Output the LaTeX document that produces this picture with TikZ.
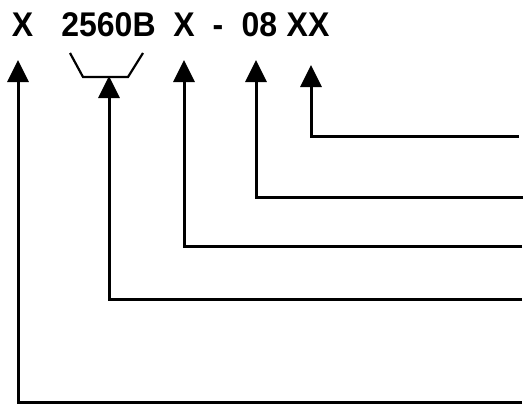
\documentclass[tikz,border=0pt]{standalone}
\usepackage{fontspec}
\setmainfont{Liberation Sans}
\usetikzlibrary{arrows.meta}
\tikzset{
  code/.style={anchor=base,inner sep=0pt,yscale=1.07,
    font=\fontsize{32}{32}\selectfont\bfseries},
  lead/.style={line width=3pt,-{Triangle[width=21pt,length=22pt]}}
}
\begin{document}
\begin{tikzpicture}[x=1pt,y=-1pt]
  \useasboundingbox (0,0) rectangle (524,404);
  % code parts
  \node[code] (pre) at (22.5,37) {X};
  \node[code] (num) at (108.5,37) {2560B};
  \node[code] (opt) at (184,37) {X};
  \node[code] (dash) at (218,37) {-};
  \node[code] (len) at (259.5,37) {08};
  \node[code] (suf) at (308,37) {XX};
  % bracket under the number
  \draw[line width=2.2pt] (70,53) -- (83,77) -- (128,77) -- (143,53);
  % arrow tips
  \coordinate (t1) at (18,60);
  \coordinate (t2) at (109,76);
  \coordinate (t3) at (184,60);
  \coordinate (t4) at (256,60);
  \coordinate (t5) at (311,65);
  % line ends on the right
  \coordinate (e1) at (522,402);
  \coordinate (e2) at (522,299);
  \coordinate (e3) at (522,246);
  \coordinate (e4) at (523,197);
  \coordinate (e5) at (519,136);
  \foreach \i in {1,...,5} \draw[lead] (e\i) -| (t\i);
\end{tikzpicture}
\end{document}
